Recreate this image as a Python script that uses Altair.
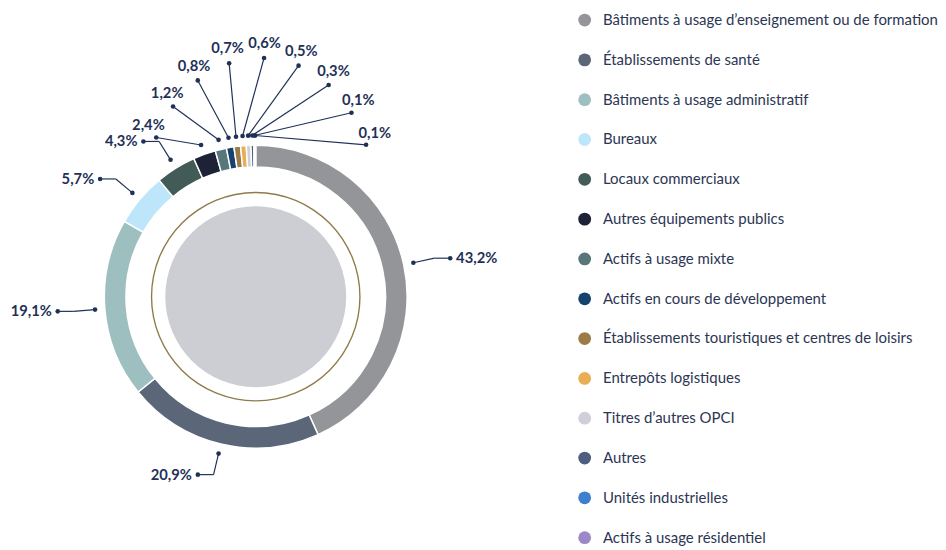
import math
import altair as alt
import pandas as pd

categories = [
    "Bâtiments à usage d’enseignement ou de formation",
    "Établissements de santé",
    "Bâtiments à usage administratif",
    "Bureaux",
    "Locaux commerciaux",
    "Autres équipements publics",
    "Actifs à usage mixte",
    "Actifs en cours de développement",
    "Établissements touristiques et centres de loisirs",
    "Entrepôts logistiques",
    "Titres d’autres OPCI",
    "Autres",
    "Unités industrielles",
    "Actifs à usage résidentiel",
]
values = [43.2, 20.9, 19.1, 5.7, 4.3, 2.4, 1.2, 0.8, 0.7, 0.6, 0.5, 0.3, 0.1, 0.1]
colors = [
    "#939598", "#5b6779", "#9dbfbf", "#bee6fa", "#435b57", "#1e2236", "#57777b",
    "#16426f", "#9b7c47", "#e8ae55", "#cfcfd9", "#4f5d80", "#3d80cf", "#9d87c8",
]

NAVY = "#1f3157"
df = pd.DataFrame({"cat": categories, "value": values, "rank": list(range(len(values)))})
one = pd.DataFrame({"a": [0]})

W, H = 560, 534
CX, CY = 252, 289
xs = alt.Scale(domain=[-CX, W - CX], nice=False, zero=False)
ys = alt.Scale(domain=[CY - H, CY], nice=False, zero=False)


def cx():
    return alt.XDatum(0, type="quantitative", scale=xs, axis=None)


def cy():
    return alt.YDatum(0, type="quantitative", scale=ys, axis=None)


def X(f):
    return alt.X(f, type="quantitative", scale=xs, axis=None)


def Y(f):
    return alt.Y(f, type="quantitative", scale=ys, axis=None)


layout = (
    alt.Chart(df)
    .transform_joinaggregate(total="sum(value)")
    .transform_window(cum="sum(value)", sort=[alt.SortField("rank")], frame=[None, 0])
    .transform_calculate(small="datum.value < 3 ? 1 : 0")
    .transform_window(kk="row_number()", groupby=["small"], sort=[alt.SortField("rank")])
    .transform_joinaggregate(ns="count()", groupby=["small"])
    .transform_calculate(
        mid="2*PI*(datum.cum - datum.value/2)/datum.total",
        side="sin(datum.mid) >= 0 ? 1 : -1",
        xi="164*sin(datum.mid)",
        yi="164*cos(datum.mid)",
        t="datum.small ? (datum.kk-1)/max(1, datum.ns-1) : 0",
        ta="(328 + 68*datum.t)*PI/180",
        tr="206 + 52*sin(PI*datum.t)",
        xo="datum.small ? (datum.tr-15)*sin(datum.ta) : 186*sin(datum.mid) + 16*datum.side",
        yo="datum.small ? (datum.tr-15)*cos(datum.ta) : 186*cos(datum.mid)",
        xb="datum.small ? datum.xo : 186*sin(datum.mid)",
        yb="datum.small ? datum.yo : 186*cos(datum.mid)",
        lx="datum.small ? datum.tr*sin(datum.ta) : datum.xo + 6*datum.side",
        ly="datum.small ? datum.tr*cos(datum.ta) : datum.yo",
        al="datum.small ? 'center' : (datum.side > 0 ? 'left' : 'right')",
        lab="replace(format(datum.value, '.1f'), '.', ',') + '%'",
    )
)

disk = alt.Chart(one).mark_arc(radius=92, theta=0, theta2=2 * math.pi, color="#cdcdd4").encode(x=cx(), y=cy())
ring = alt.Chart(one).mark_arc(radius=106.7, radius2=105.3, theta=0, theta2=2 * math.pi, color="#8f7b4b").encode(x=cx(), y=cy())

donut = alt.Chart(df).mark_arc(radius=154, radius2=132, stroke="white", strokeWidth=1.5).encode(
    theta=alt.Theta("value:Q", stack=True),
    order=alt.Order("rank:Q"),
    color=alt.Color(
        "cat:N",
        scale=alt.Scale(domain=categories, range=colors),
        legend=alt.Legend(
            orient="none", legendX=579, legendY=0, title=None,
            symbolType="circle", symbolSize=169, symbolStrokeWidth=0,
            labelFont="Lato", labelFontSize=15.2, labelColor="#2c3654",
            labelOffset=11, rowPadding=24.5, labelLimit=420, padding=0,
        ),
    ),
    x=cx(), y=cy(),
)

seg1 = layout.mark_rule(color=NAVY, strokeWidth=1.2).encode(x=X("xi"), y=Y("yi"), x2="xb:Q", y2="yb:Q")
seg2 = layout.mark_rule(color=NAVY, strokeWidth=1.2).encode(x=X("xb"), y=Y("yb"), x2="xo:Q", y2="yo:Q")
dot_in = layout.mark_circle(color=NAVY, size=22, opacity=1).encode(x=X("xi"), y=Y("yi"))
dot_out = layout.mark_circle(color=NAVY, size=22, opacity=1).encode(x=X("xo"), y=Y("yo"))

texts = [
    layout.transform_filter(f"datum.al == '{a}'")
    .mark_text(align=a, baseline="middle", font="Lato", fontWeight="bold", fontSize=15, color=NAVY)
    .encode(x=X("lx"), y=Y("ly"), text="lab:N")
    for a in ["left", "right", "center"]
]

chart = alt.layer(disk, ring, donut, seg1, seg2, dot_in, dot_out, *texts).properties(
    width=W, height=H, padding=0
).configure_view(stroke=None)

chart.save("out.html", embed_options={"renderer": "svg", "actions": False})
